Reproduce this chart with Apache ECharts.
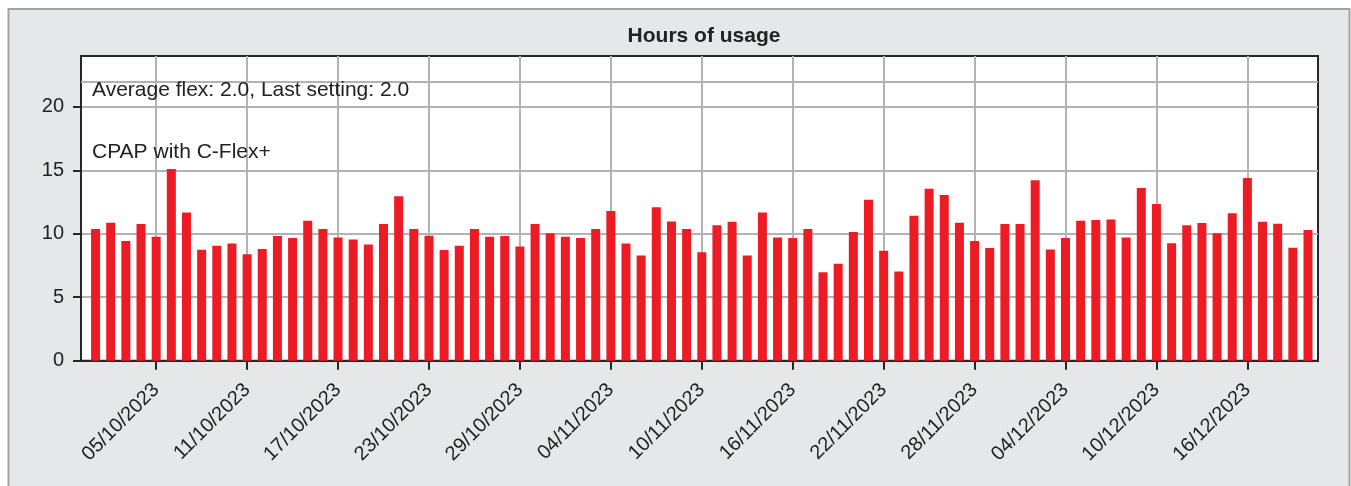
<!DOCTYPE html>
<html>
<head>
<meta charset="utf-8">
<script src="https://cdn.jsdelivr.net/npm/echarts@6/dist/echarts.min.js"></script>
<style>
  html, body { margin: 0; padding: 0; background: #ffffff; }
  #chart { width: 1351px; height: 486px; }
</style>
</head>
<body>
<div id="chart"></div>
<script>
// ---- Data ----
const dates = [
  '01/10/2023','02/10/2023','03/10/2023','04/10/2023','05/10/2023','06/10/2023','07/10/2023','08/10/2023','09/10/2023','10/10/2023',
  '11/10/2023','12/10/2023','13/10/2023','14/10/2023','15/10/2023','16/10/2023','17/10/2023','18/10/2023','19/10/2023','20/10/2023',
  '21/10/2023','22/10/2023','23/10/2023','24/10/2023','25/10/2023','26/10/2023','27/10/2023','28/10/2023','29/10/2023','30/10/2023',
  '31/10/2023','01/11/2023','02/11/2023','03/11/2023','04/11/2023','05/11/2023','06/11/2023','07/11/2023','08/11/2023','09/11/2023',
  '10/11/2023','11/11/2023','12/11/2023','13/11/2023','14/11/2023','15/11/2023','16/11/2023','17/11/2023','18/11/2023','19/11/2023',
  '20/11/2023','21/11/2023','22/11/2023','23/11/2023','24/11/2023','25/11/2023','26/11/2023','27/11/2023','28/11/2023','29/11/2023',
  '30/11/2023','01/12/2023','02/12/2023','03/12/2023','04/12/2023','05/12/2023','06/12/2023','07/12/2023','08/12/2023','09/12/2023',
  '10/12/2023','11/12/2023','12/12/2023','13/12/2023','14/12/2023','15/12/2023','16/12/2023','17/12/2023','18/12/2023','19/12/2023',
  '20/12/2023'
];
const hours = [
  10.37, 10.87, 9.42, 10.76, 9.76, 15.10, 11.68, 8.74, 9.05, 9.24,
  8.39, 8.79, 9.82, 9.66, 11.03, 10.37, 9.71, 9.55, 9.16, 10.76,
  12.95, 10.37, 9.84, 8.71, 9.05, 10.37, 9.76, 9.82, 9.00, 10.76,
  10.03, 9.76, 9.66, 10.37, 11.79, 9.24, 8.29, 12.08, 10.97, 10.37,
  8.55, 10.66, 10.95, 8.29, 11.68, 9.71, 9.66, 10.37, 6.97, 7.63,
  10.13, 12.68, 8.66, 7.03, 11.42, 13.55, 13.05, 10.87, 9.42, 8.87,
  10.76, 10.76, 14.21, 8.76, 9.66, 11.03, 11.08, 11.13, 9.71, 13.61,
  12.34, 9.26, 10.66, 10.84, 10.03, 11.61, 14.39, 10.95, 10.79, 8.89,
  10.29
];
const xTickLabels = ['05/10/2023','11/10/2023','17/10/2023','23/10/2023','29/10/2023','04/11/2023',
  '10/11/2023','16/11/2023','22/11/2023','28/11/2023','04/12/2023','10/12/2023','16/12/2023'];
const yTickValues = [0, 5, 10, 15, 20];
const chartTitle = 'Hours of usage';
const noteFlex = 'Average flex: 2.0, Last setting: 2.0';
const noteMode = 'CPAP with C-Flex+';

// ---- Helpers: x is measured in days since the first date ----
const DAY = 86400000;
function parseDate(s) {
  const p = s.split('/');
  return Date.UTC(+p[2], +p[1] - 1, +p[0]);
}
const t0 = parseDate(dates[0]);
function dayIndex(s) { return Math.round((parseDate(s) - t0) / DAY); }
function pad(n) { return (n < 10 ? '0' : '') + n; }
function fmtDay(v) {
  const d = new Date(t0 + Math.round(v) * DAY);
  return pad(d.getUTCDate()) + '/' + pad(d.getUTCMonth() + 1) + '/' + d.getUTCFullYear();
}
const seriesData = dates.map((d, i) => [dayIndex(d), hours[i]]);
const xMin = dayIndex(dates[0]) - 0.96;
const xMax = dayIndex(dates[dates.length - 1]) + 0.66;
const xTicks = xTickLabels.map(dayIndex);

const FONT = 'Liberation Sans, Arial, Helvetica, sans-serif';
const TXT = '#222222';
const GRIDC = '#b3b3b7';
const AXC = '#262626';

const chart = echarts.init(document.getElementById('chart'), null, { renderer: 'canvas' });
chart.setOption({
  animation: false,
  backgroundColor: '#ffffff',
  graphic: [
    { type: 'rect', z: -10, shape: { x: 8.5, y: 9, width: 1341, height: 500 },
      style: { fill: '#e6e7e9', stroke: '#a3a3a3', lineWidth: 2 } },
    { type: 'text', z: 100, x: 704, y: 36.5,
      style: { text: chartTitle, fontSize: 21, fontWeight: 'bold', fontFamily: FONT, fill: TXT,
               align: 'center', verticalAlign: 'middle' } },
    { type: 'text', z: 100, x: 92, y: 90.5,
      style: { text: noteFlex, fontSize: 21, fontFamily: FONT, fill: TXT,
               align: 'left', verticalAlign: 'middle' } },
    { type: 'text', z: 100, x: 92, y: 152.5,
      style: { text: noteMode, fontSize: 21, fontFamily: FONT, fill: TXT,
               align: 'left', verticalAlign: 'middle' } }
  ],
  grid: {
    left: 81, right: 33, top: 56, bottom: 125.3,
    show: true, backgroundColor: '#ffffff', borderColor: AXC, borderWidth: 2
  },
  xAxis: {
    type: 'value',
    min: xMin, max: xMax,
    axisLine: { show: true, onZero: false, lineStyle: { color: AXC, width: 2 } },
    axisTick: { show: true, customValues: xTicks, length: 9, lineStyle: { color: AXC, width: 2 } },
    axisLabel: {
      customValues: xTicks, rotate: 45, margin: 26,
      fontSize: 20, fontFamily: FONT, color: TXT,
      formatter: function (v) { return fmtDay(v); }
    },
    splitLine: { show: true, lineStyle: { color: GRIDC, width: 2 } }
  },
  yAxis: {
    type: 'value',
    min: 0, max: 24, interval: 5,
    axisLine: { show: true, onZero: false, lineStyle: { color: AXC, width: 2 } },
    axisTick: { show: true, customValues: yTickValues, length: 8, lineStyle: { color: AXC, width: 2 } },
    axisLabel: { customValues: yTickValues, margin: 17, fontSize: 20, fontFamily: FONT, color: TXT },
    splitLine: { show: true, lineStyle: { color: GRIDC, width: 2 } }
  },
  series: [{
    type: 'bar',
    data: seriesData,
    barWidth: 9,
    itemStyle: { color: '#ed1c24' },
    markLine: {
      silent: true, symbol: 'none', label: { show: false },
      lineStyle: { color: GRIDC, width: 2, type: 'solid' },
      data: [{ yAxis: 22 }]
    }
  }]
});
</script>
</body>
</html>
